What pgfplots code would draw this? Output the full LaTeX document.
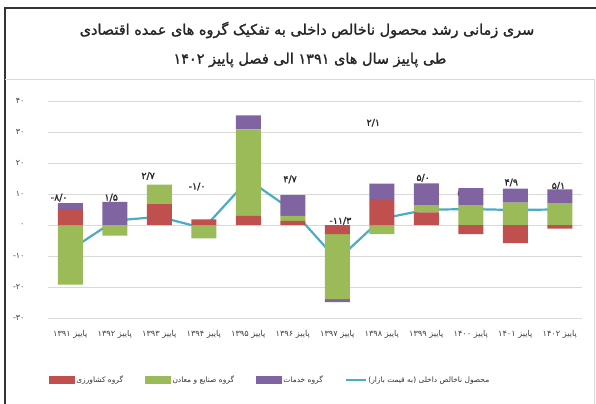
\documentclass[border=0pt]{standalone}
\usepackage{fontspec}
\usepackage{pgfplots}
\pgfplotsset{compat=1.18}
\TeXXeTstate=1
\newfontfamily\fa[Script=Arabic]{DejaVu Sans}
\newfontfamily\fab[Script=Arabic,FakeBold=1.5]{DejaVu Sans}
\definecolor{cred}{HTML}{C0504D}
\definecolor{cgreen}{HTML}{9BBB59}
\definecolor{cpurple}{HTML}{8064A2}
\definecolor{cline}{HTML}{4BACC6}
\tikzset{lbl/.style={font=\fab\fontsize{9.5}{10}\selectfont, text=black!85}}
\newcommand{\m}{-\kern0pt}
\begin{document}
\begin{tikzpicture}[x=1bp,y=1bp]
\useasboundingbox (0bp,0bp) rectangle (596bp,404bp);
\fill[white] (0bp,0bp) rectangle (596bp,404bp);
\draw[black!80, line width=1.2bp] (5bp,-5bp) -- (5bp,396bp) -- (601bp,396bp);
\draw[black!15, line width=1bp] (5bp,324bp) -- (594bp,324bp) -- (594bp,-5bp);
\node[font=\fab\fontsize{14.5}{16}\selectfont, text=black!85] at (307bp,374bp) {\beginR سری زمانی رشد محصول ناخالص داخلی به تفکیک گروه های عمده اقتصادی\endR};
\node[font=\fab\fontsize{14.5}{16}\selectfont, text=black!85] at (310bp,344bp) {\beginR طی پاییز سال های ۱۳۹۱ الی فصل پاییز ۱۴۰۲\endR};
\begin{axis}[
  at={(48bp,86bp)}, anchor=south west,
  scale only axis, width=534bp, height=216.6bp,
  xmin=-0.5, xmax=11.5, ymin=-30, ymax=40,
  ybar stacked, bar width=25bp,
  axis line style={draw=none}, major tick length=0pt,
  ymajorgrids, grid style={black!15, line width=0.9bp},
  ytick={-30,-20,-10,0,10,20,30,40},
  yticklabels={\m ۳۰,\m ۲۰,\m ۱۰,۰,۱۰,۲۰,۳۰,۴۰},
  xtick={0,1,2,3,4,5,6,7,8,9,10,11},
  xticklabels={\beginR پاییز ۱۳۹۱\endR,\beginR پاییز ۱۳۹۲\endR,\beginR پاییز ۱۳۹۳\endR,\beginR پاییز ۱۳۹۴\endR,\beginR پاییز ۱۳۹۵\endR,\beginR پاییز ۱۳۹۶\endR,\beginR پاییز ۱۳۹۷\endR,\beginR پاییز ۱۳۹۸\endR,\beginR پاییز ۱۳۹۹\endR,\beginR پاییز ۱۴۰۰\endR,\beginR پاییز ۱۴۰۱\endR,\beginR پاییز ۱۴۰۲\endR},
  yticklabel style={font=\fa\fontsize{8}{9}\selectfont, text=black!75, anchor=east, xshift=-20bp},
  xticklabel style={font=\fa\fontsize{8.2}{9}\selectfont, text=black!75, anchor=center, yshift=-16bp},
  clip=false,
  legend columns=4,
  legend style={at={(0.416,-0.286)}, anchor=center, draw=none, fill=none,
    font=\fa\fontsize{7.5}{8}\selectfont, text=black!80,
    /tikz/every even column/.append style={column sep=20bp}},
]
\addplot[fill=cred, draw=none, forget plot] coordinates {(0,5.2) (1,0) (2,6.8) (3,1.9) (4,3.0) (5,1.4) (6,-2.9) (7,8.4) (8,4.1) (9,-2.9) (10,-5.8) (11,-1.1)};
\addplot[fill=cgreen, draw=none, forget plot] coordinates {(0,-19.2) (1,-3.4) (2,6.3) (3,-4.3) (4,28.0) (5,1.6) (6,-21.0) (7,-2.9) (8,2.4) (9,6.5) (10,7.3) (11,7.1)};
\addplot[fill=cpurple, draw=none, forget plot] coordinates {(0,1.9) (1,7.5) (2,0) (3,0) (4,4.5) (5,6.7) (6,-1.0) (7,5.0) (8,7.0) (9,5.5) (10,4.5) (11,4.5)};
\addplot[cline, line width=2.2bp, sharp plot, stack plots=false, mark=none, forget plot] coordinates {(0,-8.0) (1,1.5) (2,2.7) (3,-1.0) (4,14.7) (5,4.7) (6,-11.3) (7,2.1) (8,5.0) (9,5.2) (10,4.9) (11,5.1)};
\addlegendimage{legend image code/.code={\fill[cred] (0bp,-3.5bp) rectangle (25bp,3.5bp);}}
\addlegendentry{\beginR گروه کشاورزی\endR}
\addlegendimage{legend image code/.code={\fill[cgreen] (0bp,-3.5bp) rectangle (25bp,3.5bp);}}
\addlegendentry{\beginR گروه صنایع و معادن\endR}
\addlegendimage{legend image code/.code={\fill[cpurple] (0bp,-3.5bp) rectangle (25bp,3.5bp);}}
\addlegendentry{\beginR گروه خدمات\endR}
\addlegendimage{legend image code/.code={\draw[cline, line width=1.5bp] (0bp,0bp) -- (20bp,0bp);}}
\addlegendentry{\beginR محصول ناخالص داخلی (به قیمت بازار)\endR}
\node[lbl] at (axis cs:-0.25,8.9) {\m ۸/۰};
\node[lbl] at (axis cs:0.92,8.9) {۱/۵};
\node[lbl] at (axis cs:1.75,15.9) {۲/۷};
\node[lbl] at (axis cs:2.85,12.5) {\m ۱/۰};
\node[lbl] at (axis cs:3.98,21.5) {۱۴/۷};
\node[lbl] at (axis cs:4.94,14.8) {۴/۷};
\node[lbl] at (axis cs:6.07,1.4) {\m ۱۱/۳};
\node[lbl] at (axis cs:6.81,33.1) {۲/۱};
\node[lbl] at (axis cs:7.93,15.3) {۵/۰};
\node[lbl] at (axis cs:8.85,10.5) {۵/۲};
\node[lbl] at (axis cs:9.91,13.8) {۴/۹};
\node[lbl] at (axis cs:10.97,12.7) {۵/۱};
\end{axis}
\end{tikzpicture}
\end{document}
